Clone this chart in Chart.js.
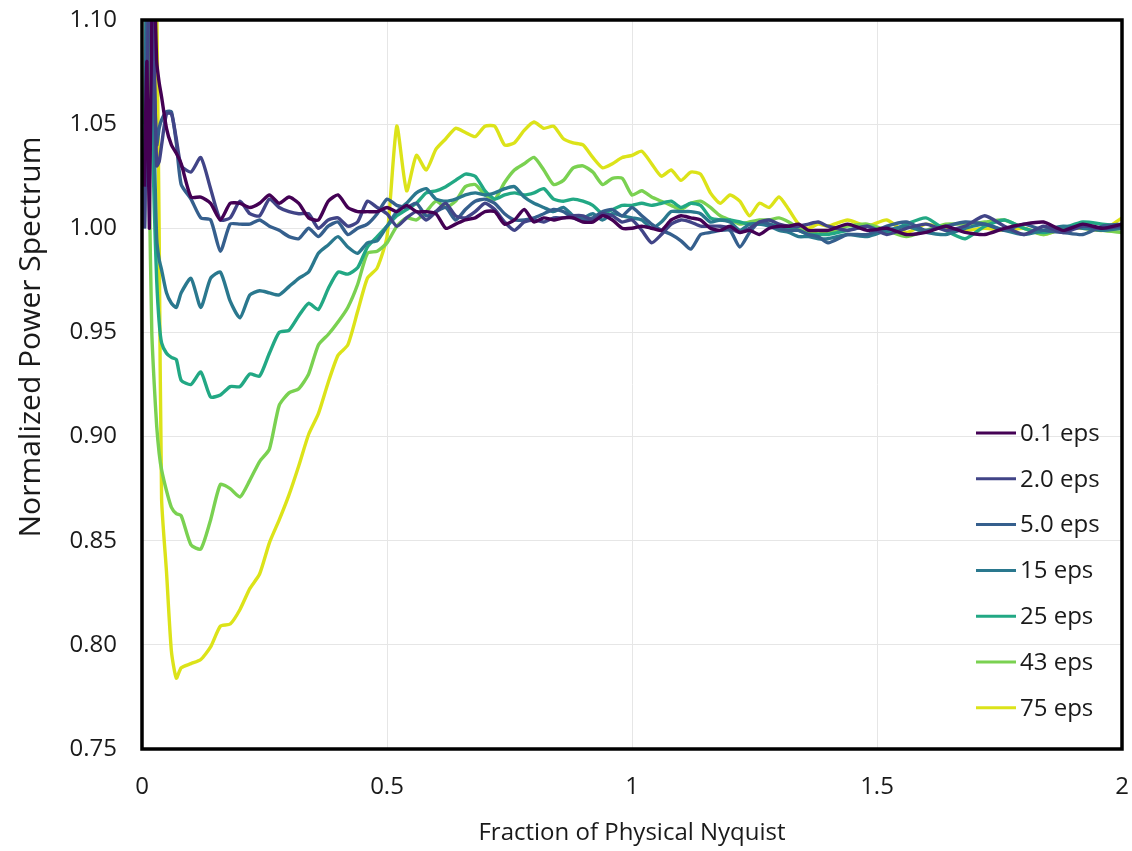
<!DOCTYPE html>
<html>
<head>
<meta charset="utf-8">
<script src="https://cdn.jsdelivr.net/npm/chart.js@4.4.1/dist/chart.umd.min.js"></script>
<style>
  html, body { margin: 0; padding: 0; background: #fff; }
  #wrap { width: 1132px; height: 851px; }
</style>
</head>
<body>
<div id="wrap"><canvas id="myChart" width="1132" height="851"></canvas></div>
<script>
// fraction of physical Nyquist (shared x positions)
const freq = [0.005, 0.01, 0.015, 0.02, 0.025, 0.03, 0.035, 0.04, 0.05, 0.06, 0.07, 0.08,
  0.10, 0.12, 0.14, 0.16, 0.18, 0.20, 0.22, 0.24, 0.26, 0.28, 0.30, 0.32, 0.34, 0.36, 0.38, 0.40, 0.42, 0.44, 0.46, 0.48,
  0.50, 0.52, 0.54, 0.56, 0.58, 0.60, 0.62, 0.64, 0.66, 0.68, 0.70, 0.72, 0.74, 0.76, 0.78, 0.80, 0.82, 0.84, 0.86, 0.88,
  0.90, 0.92, 0.94, 0.96, 0.98, 1.00, 1.02, 1.04, 1.06, 1.08, 1.10, 1.12, 1.14, 1.16, 1.18, 1.20, 1.22, 1.24, 1.26, 1.28,
  1.30, 1.32, 1.34, 1.36, 1.38, 1.40,
  1.44, 1.48, 1.52, 1.56, 1.60, 1.64, 1.68, 1.72, 1.76, 1.80, 1.84, 1.88, 1.92, 1.96, 2.00];

const labels = ['0.1 eps', '2.0 eps', '5.0 eps', '15 eps', '25 eps', '43 eps', '75 eps'];
const colors = ['#440154', '#414487', '#355f8d', '#2a788e', '#22a884', '#7ad151', '#dce319'];

const eps01 = [1.02, 1.08, 1.00, 1.10, 1.12, 1.08, 1.070, 1.063, 1.048, 1.040, 1.036, 1.031,
  1.015, 1.015, 1.012, 1.004, 1.012, 1.012, 1.010, 1.012, 1.016, 1.012, 1.015, 1.012, 1.005, 1.004, 1.013, 1.016, 1.010, 1.008, 1.008, 1.008,
  1.010, 1.008, 1.011, 1.008, 1.008, 1.007, 1.000, 1.002, 1.004, 1.005, 1.008, 1.008, 1.002, 1.004, 1.009, 1.003, 1.005, 1.004, 1.005, 1.005,
  1.003, 1.003, 1.006, 1.004, 1.000, 1.000, 1.001, 1.000, 0.999, 1.004, 1.006, 1.005, 1.004, 1.000, 0.999, 1.001, 0.998, 0.999, 0.997, 1.000,
  1.001, 1.001, 1.002, 0.999, 0.999, 0.999,
  1.002, 0.999, 1.000, 0.997, 0.998, 1.001, 0.998, 0.997, 1.000, 1.002, 1.003, 0.999, 1.002, 1.000, 1.002];

const eps2 = [1.00, 1.06, 1.12, 1.11, 1.08, 1.03, 1.032, 1.040, 1.055, 1.055, 1.043, 1.030,
  1.027, 1.034, 1.019, 1.004, 1.005, 1.013, 1.007, 1.006, 1.014, 1.010, 1.008, 1.007, 1.007, 1.000, 1.004, 1.005, 1.001, 1.003, 1.013, 1.010,
  1.007, 1.001, 1.005, 1.008, 1.004, 1.008, 1.012, 1.006, 1.005, 1.008, 1.012, 1.009, 1.003, 0.999, 1.003, 1.004, 1.003, 1.005, 1.005, 1.006,
  1.006, 1.004, 1.007, 1.006, 1.003, 1.004, 0.999, 0.993, 0.997, 1.002, 1.004, 1.003, 1.001, 1.001, 1.001, 1.000, 0.998, 1.000, 1.003, 1.004,
  1.002, 1.001, 1.001, 1.002, 1.003, 1.001,
  0.999, 1.001, 0.997, 1.000, 1.002, 0.999, 1.001, 1.006, 1.001, 0.997, 1.001, 0.998, 1.001, 1.000, 1.001];

const eps5 = [1.00, 1.10, 1.14, 1.12, 1.07, 1.04, 1.048, 1.052, 1.056, 1.056, 1.041, 1.021,
  1.014, 1.005, 1.004, 0.989, 1.002, 1.002, 1.002, 1.004, 1.001, 0.999, 0.996, 0.995, 1.000, 0.996, 1.001, 1.003, 0.997, 1.000, 1.002, 1.007,
  1.014, 1.011, 1.010, 1.012, 1.006, 1.008, 1.010, 1.004, 1.009, 1.013, 1.014, 1.012, 1.007, 1.004, 1.004, 1.005, 1.007, 1.009, 1.008, 1.005,
  1.004, 1.005, 1.008, 1.009, 1.006, 1.010, 1.006, 1.002, 0.999, 0.997, 0.994, 0.990, 0.997, 0.998, 0.999, 0.999, 0.991, 0.998, 1.003, 1.002,
  1.000, 0.999, 0.999, 0.997, 0.996, 0.993,
  0.997, 0.997, 1.001, 1.003, 0.999, 1.001, 1.003, 1.002, 0.999, 1.002, 0.999, 0.998, 0.997, 1.001, 1.002];

const eps15 = [1.00, 1.15, 1.14, 1.10, 1.04, 0.995, 0.985, 0.980, 0.969, 0.964, 0.962, 0.969,
  0.976, 0.962, 0.976, 0.979, 0.965, 0.957, 0.968, 0.970, 0.969, 0.968, 0.972, 0.976, 0.979, 0.988, 0.992, 0.996, 0.991, 0.988, 0.993, 0.994,
  1.001, 1.008, 1.012, 1.017, 1.019, 1.014, 1.013, 1.014, 1.016, 1.017, 1.016, 1.017, 1.019, 1.020, 1.015, 1.012, 1.010, 1.008, 1.010, 1.006,
  1.005, 1.007, 1.004, 1.007, 1.006, 1.005, 1.004, 1.000, 1.003, 1.008, 1.008, 1.008, 1.007, 1.003, 1.004, 1.003, 0.999, 1.002, 1.002, 1.001,
  0.999, 0.998, 0.996, 0.996, 0.995, 0.995,
  0.997, 0.996, 0.999, 1.001, 0.998, 0.997, 1.000, 1.002, 0.999, 0.997, 0.999, 1.001, 1.000, 0.999, 1.000];

const eps25 = [1.00, 1.13, 1.12, 1.06, 1.01, 0.975, 0.955, 0.945, 0.940, 0.938, 0.937, 0.927,
  0.925, 0.931, 0.919, 0.920, 0.924, 0.924, 0.930, 0.929, 0.940, 0.950, 0.951, 0.958, 0.964, 0.961, 0.971, 0.979, 0.978, 0.981, 0.991, 0.996,
  1.001, 1.006, 1.009, 1.012, 1.017, 1.018, 1.020, 1.023, 1.026, 1.025, 1.018, 1.014, 1.016, 1.017, 1.016, 1.017, 1.019, 1.014, 1.013, 1.014,
  1.013, 1.011, 1.007, 1.009, 1.011, 1.011, 1.012, 1.011, 1.012, 1.013, 1.010, 1.012, 1.011, 1.005, 1.004, 1.004, 1.003, 1.002, 1.002, 1.002,
  1.001, 1.000, 0.999, 0.997, 0.997, 0.997,
  0.999, 1.001, 0.998, 1.002, 1.005, 0.999, 0.995, 1.001, 1.004, 1.000, 0.998, 1.000, 1.003, 1.002, 1.001];

const eps43 = [1.05, 1.12, 1.02, 0.95, 0.925, 0.905, 0.892, 0.884, 0.874, 0.866, 0.863, 0.862,
  0.848, 0.846, 0.860, 0.877, 0.875, 0.871, 0.879, 0.888, 0.894, 0.915, 0.921, 0.923, 0.930, 0.944, 0.949, 0.955, 0.962, 0.973, 0.988, 0.989,
  0.993, 1.001, 1.005, 1.004, 1.008, 1.013, 1.010, 1.013, 1.020, 1.021, 1.016, 1.014, 1.022, 1.028, 1.031, 1.034, 1.028, 1.021, 1.023, 1.029,
  1.030, 1.027, 1.021, 1.024, 1.024, 1.016, 1.018, 1.015, 1.013, 1.011, 1.009, 1.012, 1.013, 1.010, 1.006, 1.004, 1.002, 1.003, 1.004, 1.004,
  1.005, 1.003, 1.000, 0.998, 0.998, 0.998,
  1.001, 1.002, 0.999, 0.996, 0.999, 1.002, 1.002, 1.003, 1.004, 1.000, 0.997, 1.000, 1.001, 0.999, 0.998];

const eps75 = [1.25, 1.30, 1.35, 1.30, 1.22, 1.11, 1.00, 0.870, 0.835, 0.797, 0.784, 0.789,
  0.791, 0.793, 0.799, 0.809, 0.810, 0.817, 0.827, 0.834, 0.849, 0.860, 0.872, 0.886, 0.901, 0.911, 0.926, 0.939, 0.944, 0.960, 0.976, 0.981,
  0.996, 1.049, 1.018, 1.035, 1.028, 1.038, 1.043, 1.048, 1.046, 1.044, 1.049, 1.049, 1.040, 1.041, 1.047, 1.051, 1.048, 1.049, 1.043, 1.041,
  1.040, 1.034, 1.029, 1.031, 1.034, 1.035, 1.037, 1.031, 1.025, 1.028, 1.023, 1.027, 1.026, 1.017, 1.012, 1.016, 1.013, 1.006, 1.012, 1.010,
  1.015, 1.009, 1.002, 1.000, 1.002, 1.001,
  1.004, 1.001, 1.004, 0.998, 1.002, 1.000, 0.999, 1.000, 0.999, 1.000, 0.997, 1.000, 1.000, 0.999, 1.005];

const series = [eps01, eps2, eps5, eps15, eps25, eps43, eps75];

const FONT = "'Open Sans', 'Liberation Sans', sans-serif";
const TXT = '#1a1a1a';

// black frame round the plot area
const frame = {
  id: 'frame',
  afterDatasetsDraw(chart) {
    const a = chart.chartArea, c = chart.ctx;
    c.save();
    c.strokeStyle = '#000';
    c.lineWidth = 3.5;
    c.strokeRect(a.left, a.top, a.right - a.left, a.bottom - a.top);
    c.restore();
  }
};

// legend inside the plot (lower right) and the y title, which sits above centre
const extras = {
  id: 'extras',
  afterDraw(chart) {
    const c = chart.ctx;
    c.save();
    c.font = '24px ' + FONT;
    c.textBaseline = 'middle';
    c.fillStyle = TXT;
    chart.data.datasets.forEach((ds, i) => {
      const y = 433 + i * 45.8;
      c.strokeStyle = ds.borderColor;
      c.lineWidth = 3;
      c.beginPath();
      c.moveTo(976, y);
      c.lineTo(1016, y);
      c.stroke();
      c.fillText(ds.label, 1020, y + 1);
    });

    c.translate(31, 337);
    c.rotate(-Math.PI / 2);
    c.textAlign = 'center';
    c.font = '30px ' + FONT;
    c.fillText('Normalized Power Spectrum', 0, 0);
    c.restore();
  }
};

const ctx = document.getElementById('myChart');

const chart = new Chart(ctx, {
  type: 'line',
  data: {
    datasets: series.map((vals, i) => ({
      label: labels[i],
      data: vals.map((v, j) => ({ x: freq[j], y: v })),
      borderColor: colors[i],
      backgroundColor: colors[i],
      borderWidth: 3.4,
      pointRadius: 0,
      tension: 0.2,
      clip: 0
    }))
  },
  options: {
    responsive: false,
    animation: false,
    events: [],
    layout: { padding: { top: 20, right: 10, bottom: 0, left: 0 } },
    plugins: {
      legend: { display: false },
      tooltip: { enabled: false }
    },
    scales: {
      x: {
        type: 'linear',
        min: 0,
        max: 2,
        ticks: {
          stepSize: 0.5,
          padding: 24,
          color: TXT,
          font: { family: FONT, size: 24 },
          callback: (v) => String(Math.round(v * 10) / 10)
        },
        grid: { color: '#e6e6e6', drawTicks: false },
        border: { display: false },
        title: {
          display: true,
          text: 'Fraction of Physical Nyquist',
          color: TXT,
          font: { family: FONT, size: 24 },
          padding: { top: 0, bottom: 3 }
        },
        afterFit(scale) {
          scale.height = 102;
          scale.paddingLeft = 0;
          scale.paddingRight = 0;
        }
      },
      y: {
        min: 0.75,
        max: 1.10,
        ticks: {
          stepSize: 0.05,
          padding: 25,
          color: TXT,
          font: { family: FONT, size: 24 },
          callback: (v) => v.toFixed(2)
        },
        grid: { color: '#e6e6e6', drawTicks: false },
        border: { display: false },
        afterFit(scale) {
          scale.width = 142;
          scale.paddingTop = 0;
          scale.paddingBottom = 0;
        }
      }
    }
  },
  plugins: [frame, extras]
});
</script>
</body>
</html>
